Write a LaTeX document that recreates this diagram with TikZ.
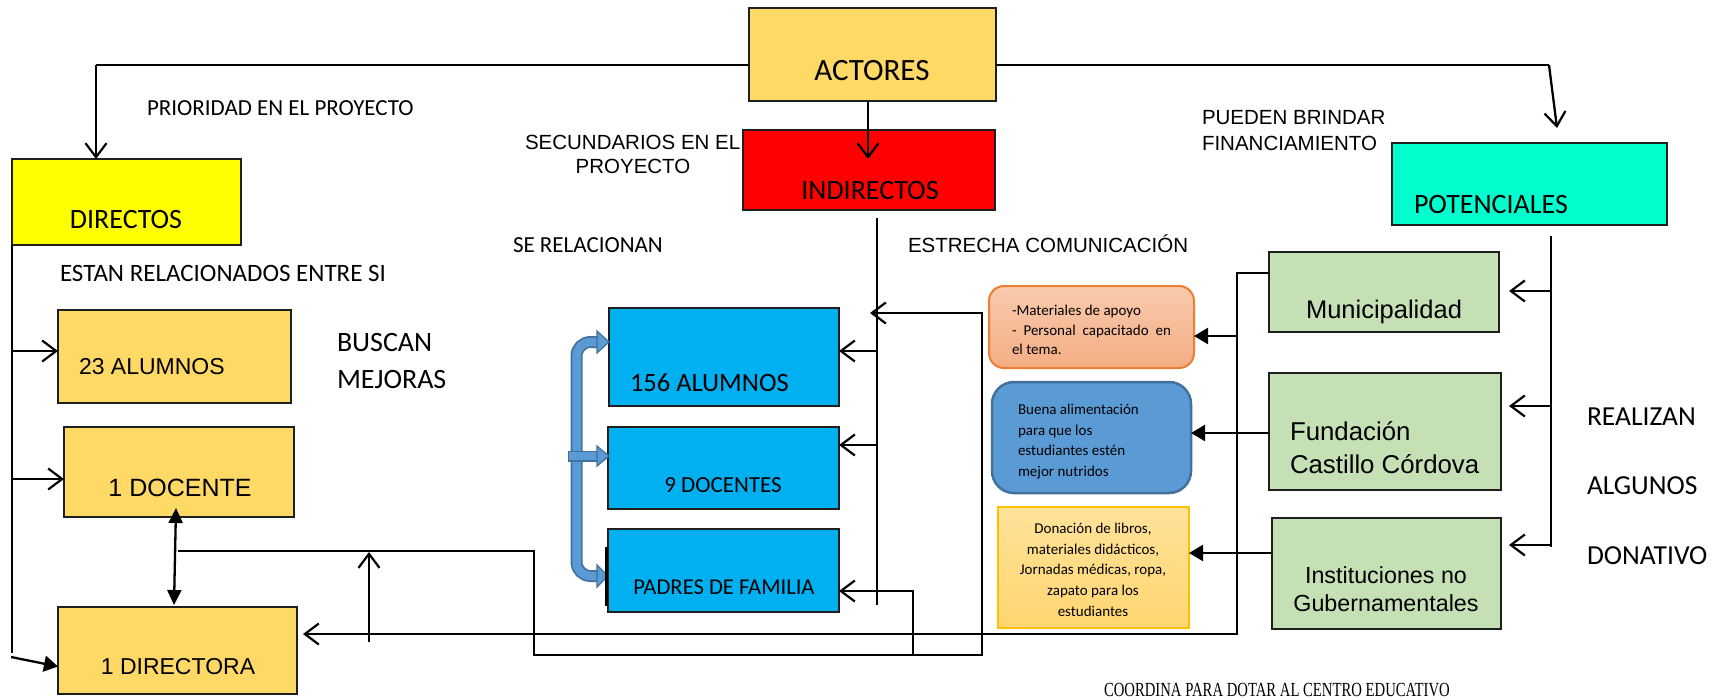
\documentclass[tikz,border=0pt]{standalone}
\usepackage{fontspec}
\usepackage{graphicx}
\newfontfamily\calfont{Carlito}
\newfontfamily\arfont{Liberation Sans}
\newfontfamily\tmfont{Liberation Serif}
\usetikzlibrary{arrows.meta}
\definecolor{gold}{HTML}{FFD966}
\definecolor{yel}{HTML}{FFFF00}
\definecolor{redb}{HTML}{FF0000}
\definecolor{turq}{HTML}{00FFCC}
\definecolor{cyanb}{HTML}{00B0F0}
\definecolor{greenb}{HTML}{C5E0B4}
\definecolor{orTop}{HTML}{F8CBAD}
\definecolor{orBot}{HTML}{F4AD85}
\definecolor{orBorder}{HTML}{ED7D31}
\definecolor{blueFill}{HTML}{5B9BD5}
\definecolor{blueBorder}{HTML}{41719C}
\definecolor{ylTop}{HTML}{FFE29A}
\definecolor{ylBot}{HTML}{FFD670}
\definecolor{ylBorder}{HTML}{FFC000}
\begin{document}
\begin{tikzpicture}[x=1pt,y=-1pt,
  box/.style={draw=black!88, line width=2pt, inner sep=0pt, outer sep=0pt, anchor=north west},
  conn/.style={line width=1.6pt, draw=black},
  arr/.style={line width=2.3pt, draw=black},
  openhead/.style={-{Straight Barb[length=14pt,width=21pt,line width=2.2pt]}},
  fillhead/.style={-{Triangle[length=14pt,width=16pt]}},
  lbl/.style={inner sep=0pt, outer sep=0pt, anchor=base},
  lblw/.style={inner sep=0pt, outer sep=0pt, anchor=base west},
  cal/.style={font={\calfont\fontsize{#1}{#1}\selectfont}},
  ari/.style={font={\arfont\fontsize{#1}{#1}\selectfont}},
]
\fill[white] (0,0) rectangle (1726,699);
\useasboundingbox (0,0) rectangle (1726,699);

% ---------- boxes ----------
\node[box,fill=gold,minimum width=247pt,minimum height=93pt] (actores) at (749,8) {};
\node[box,fill=redb,minimum width=252pt,minimum height=80pt] (indirectos) at (743,130) {};
\node[box,fill=yel,minimum width=229pt,minimum height=86pt] (directos) at (12,159) {};
\node[box,fill=turq,minimum width=275pt,minimum height=82pt] (potenciales) at (1392,143) {};
\node[box,fill=gold,minimum width=233pt,minimum height=93pt] (alum23) at (58,310) {};
\node[box,fill=gold,minimum width=230pt,minimum height=90pt] (docente1) at (64,427) {};
\node[box,fill=gold,minimum width=239pt,minimum height=87pt] (directora) at (58,607) {};
\node[box,fill=cyanb,minimum width=230pt,minimum height=98pt] (alum156) at (609,308) {};
\node[box,fill=cyanb,minimum width=231pt,minimum height=82pt] (docentes9) at (608,427) {};
\node[box,fill=cyanb,minimum width=231pt,minimum height=83pt] (padres) at (608,529) {};
\node[box,fill=greenb,minimum width=230pt,minimum height=80pt] (muni) at (1269,252) {};
\node[box,fill=greenb,minimum width=232pt,minimum height=117pt] (fund) at (1269,373) {};
\node[box,fill=greenb,minimum width=229pt,minimum height=111pt] (inst) at (1272,518) {};
\node[box,draw=orBorder,top color=orTop,bottom color=orBot,rounded corners=15pt,minimum width=205pt,minimum height=82pt] (orange) at (989,286) {};
\node[box,draw=blueBorder,fill=blueFill,line width=2.5pt,rounded corners=22pt,minimum width=199pt,minimum height=111pt] (bluebox) at (992,382) {};
\node[box,draw=ylBorder,top color=ylTop,bottom color=ylBot,line width=1.5pt,minimum width=191pt,minimum height=121pt] (yellowbox) at (998,507) {};

% ---------- box texts ----------
\node[lbl,cal=31] (tactores) at (872,80) {ACTORES};
\node[lbl,cal=28] (tindirectos) at (870,199) {INDIRECTOS};
\node[lbl,cal=28] (tdirectos) at (126,228) {DIRECTOS};
\node[lblw,cal=28] (tpotenciales) at (1414,213) {POTENCIALES};
\node[lblw,ari=23] (talum23) at (79,374) {23 ALUMNOS};
\node[lbl,ari=25] (tdocente1) at (180,496) {1 DOCENTE};
\node[lbl,ari=23] (tdirectora) at (178,674) {1 DIRECTORA};
\node[lblw,cal=26.5] (talum156) at (630,391.5) {156 ALUMNOS};
\node[lbl,cal=23] (tdocentes9) at (723,492) {9 DOCENTES};
\node[lbl,cal=22.6] (tpadres) at (724,594) {PADRES DE FAMILIA};
\node[lbl,ari=25.5] (tmuni) at (1384,318) {Municipalidad};
\node[lblw,ari=25.8] (tfund1) at (1290,440) {Fundación};
\node[lblw,ari=25.8] (tfund2) at (1290,473) {Castillo Córdova};
\node[lbl,ari=23.3] (tinst1) at (1386,583) {Instituciones no};
\node[lbl,ari=23.3] (tinst2) at (1386,611) {Gubernamentales};
\node[lblw,cal=15] (to1) at (1012,315) {-Materiales de apoyo};
\node[lblw,cal=15] (to2) at (1012,335) {\hbox to 159pt{-\hfill Personal\hfill capacitado\hfill en}};
\node[lblw,cal=15] (to3) at (1012,354) {el tema.};
\node[lblw,cal=15] (tb1) at (1018,414) {Buena alimentación};
\node[lblw,cal=15] (tb2) at (1018,435) {para que los};
\node[lblw,cal=15] (tb3) at (1018,455) {estudiantes estén};
\node[lblw,cal=15] (tb4) at (1018,476) {mejor nutridos};
\node[lbl,cal=15] (ty1) at (1093,533) {Donación de libros,};
\node[lbl,cal=15] (ty2) at (1093,554) {materiales didácticos,};
\node[lbl,cal=15] (ty3) at (1093,574) {Jornadas médicas, ropa,};
\node[lbl,cal=15] (ty4) at (1093,595) {zapato para los};
\node[lbl,cal=15] (ty5) at (1093,616) {estudiantes};

% ---------- free labels ----------
\node[lblw,cal=23] (prioridad) at (147,115.5) {PRIORIDAD EN EL PROYECTO};
\node[lblw,cal=25] (estan) at (60,281) {ESTAN RELACIONADOS ENTRE SI};
\node[lblw,cal=23] (serel) at (513,252) {SE RELACIONAN};
\node[lblw,ari=20.5] (secund1) at (525,149) {SECUNDARIOS EN EL};
\node[lbl,ari=20.5] (secund2) at (633,173) {PROYECTO};
\node[lblw,ari=20.5] (estrecha) at (908,252) {ESTRECHA COMUNICACIÓN};
\node[lblw,ari=20.5] (pueden1) at (1202,124) {PUEDEN BRINDAR};
\node[lblw,ari=20.5] (pueden2) at (1202,150) {FINANCIAMIENTO};
\node[lblw,cal=28] (buscan) at (337,351) {BUSCAN};
\node[lblw,cal=28] (mejoras) at (337,388) {MEJORAS};
\node[lblw,cal=27.5] (realizan) at (1587,425) {REALIZAN};
\node[lblw,cal=27.5] (algunos) at (1587,494) {ALGUNOS};
\node[lblw,cal=27.5] (donativo) at (1587,564) {DONATIVO};
\node[lblw] (coordina) at (1104,696) {\scalebox{0.735}[1]{\tmfont\fontsize{20}{20}\selectfont COORDINA PARA DOTAR AL CENTRO EDUCATIVO}};

% ---------- blue bracket arrow ----------
\draw[line width=12pt, draw=blueBorder, rounded corners=14pt] (598,342) -- (576.5,342) -- (576.5,576) -- (598,576);
\draw[line width=8.5pt, draw=blueFill, rounded corners=14pt] (599,342) -- (576.5,342) -- (576.5,576) -- (599,576);
\draw[line width=11pt, draw=blueBorder] (568,456) -- (598,456);
\draw[line width=7.5pt, draw=blueFill] (569,456) -- (599,456);
\filldraw[fill=blueFill, draw=blueBorder, line width=1.2pt] (597,331) -- (609,342) -- (597,353) -- cycle;
\filldraw[fill=blueFill, draw=blueBorder, line width=1.2pt] (597,446) -- (609,456) -- (597,466) -- cycle;
\filldraw[fill=blueFill, draw=blueBorder, line width=1.2pt] (597,565) -- (608,576) -- (597,587) -- cycle;
\coordinate (pl1) at (606.5,547);
\coordinate (pl2) at (606.5,606);
\draw[line width=2.6pt] (pl1) -- (pl2);

% ---------- connectors ----------
\coordinate (dl) at (96,65);
\draw[conn] (actores.west |- dl) -- (dl);
\draw[arr,openhead] (dl) -- (dl |- directos.north);
\coordinate (pr) at (1549,65);
\coordinate (ptip) at (1557,128);
\draw[conn] (actores.east |- pr) -- (pr);
\draw[arr,openhead] (pr) -- (ptip);
\coordinate (ai) at (868,159);
\draw[arr,openhead] (ai |- actores.south) -- (ai);

% left column
\coordinate (lb) at (12,653);
\draw[conn] (directos.south west) -- (lb);
\coordinate (l1) at (12,351);
\draw[arr,openhead] (l1) -- (l1 -| alum23.west);
\coordinate (l2) at (12,479);
\draw[arr,openhead] (l2) -- (l2 -| docente1.west);
\coordinate (l3) at (11,657);
\draw[arr,fillhead] (l3) -- ([yshift=-16pt]directora.west);
\draw[arr,{Triangle[length=15pt,width=14pt]}-{Triangle[length=15pt,width=14pt]}] ([xshift=-3pt,yshift=9pt]docente1.south) -- ([xshift=-3.5pt,yshift=2pt]directora.north);

% indirectos column
\coordinate (it) at (877,218);
\coordinate (ib) at (877,605);
\draw[conn] (it) -- (ib);
\coordinate (i1) at (877,351);
\coordinate (i2) at (877,445);
\coordinate (i3) at (877,591);
\draw[arr,openhead] (i1) -- (i1 -| alum156.east);
\draw[arr,openhead] (i2) -- (i2 -| docentes9.east);
\draw[arr,openhead] (i3) -- (i3 -| padres.east);

% docente -> indirectos loop
\coordinate (p1a) at (178,551);
\coordinate (p1b) at (534,551);
\coordinate (p1c) at (534,655);
\coordinate (p1d) at (982,655);
\coordinate (p1e) at (982,313);
\coordinate (p1f) at (870,313);
\draw[conn] (p1a) -- (p1b) -- (p1c) -- (p1d) -- (p1e) -- ([xshift=-20pt]p1e);
\draw[arr,openhead] ([xshift=-20pt]p1e) -- (p1f);
\coordinate (u1) at (369,642);
\coordinate (u2) at (369,552);
\draw[arr,openhead] (u1) -- (u2);
\coordinate (q1) at (913,655);
\coordinate (q2) at (913,591);
\draw[conn] (q1) -- (q2) -- (i3);

% municipalidad bracket to directora
\coordinate (m1) at (1237,273);
\coordinate (m2) at (1237,634);
\coordinate (m3) at (303,634);
\coordinate (m4) at (330,634);
\draw[conn] (muni.west |- m1) -- (m1) -- (m2) -- (m4);
\draw[arr,openhead] (m4) -- (m3);
\coordinate (o1) at (1236,336);
\draw[arr,fillhead] (o1) -- (o1 -| orange.east);
\coordinate (f1) at (1269,433);
\draw[arr,fillhead] (f1) -- (f1 -| bluebox.east);
\coordinate (n1) at (1272,553);
\draw[arr,fillhead] (n1) -- (n1 -| yellowbox.east);

% potenciales column
\coordinate (pv1) at (1551,236);
\coordinate (pv2) at (1551,547);
\draw[conn] (pv1) -- (pv2);
\coordinate (pa1) at (1551,291);
\coordinate (pa2) at (1551,406);
\coordinate (pa3) at (1551,545);
\coordinate (pt1) at (1509,291);
\coordinate (pt2) at (1509,406);
\coordinate (pt3) at (1509,545);
\draw[arr,openhead] (pa1) -- (pt1);
\draw[arr,openhead] (pa2) -- (pt2);
\draw[arr,openhead] (pa3) -- (pt3);
\end{tikzpicture}
\end{document}
